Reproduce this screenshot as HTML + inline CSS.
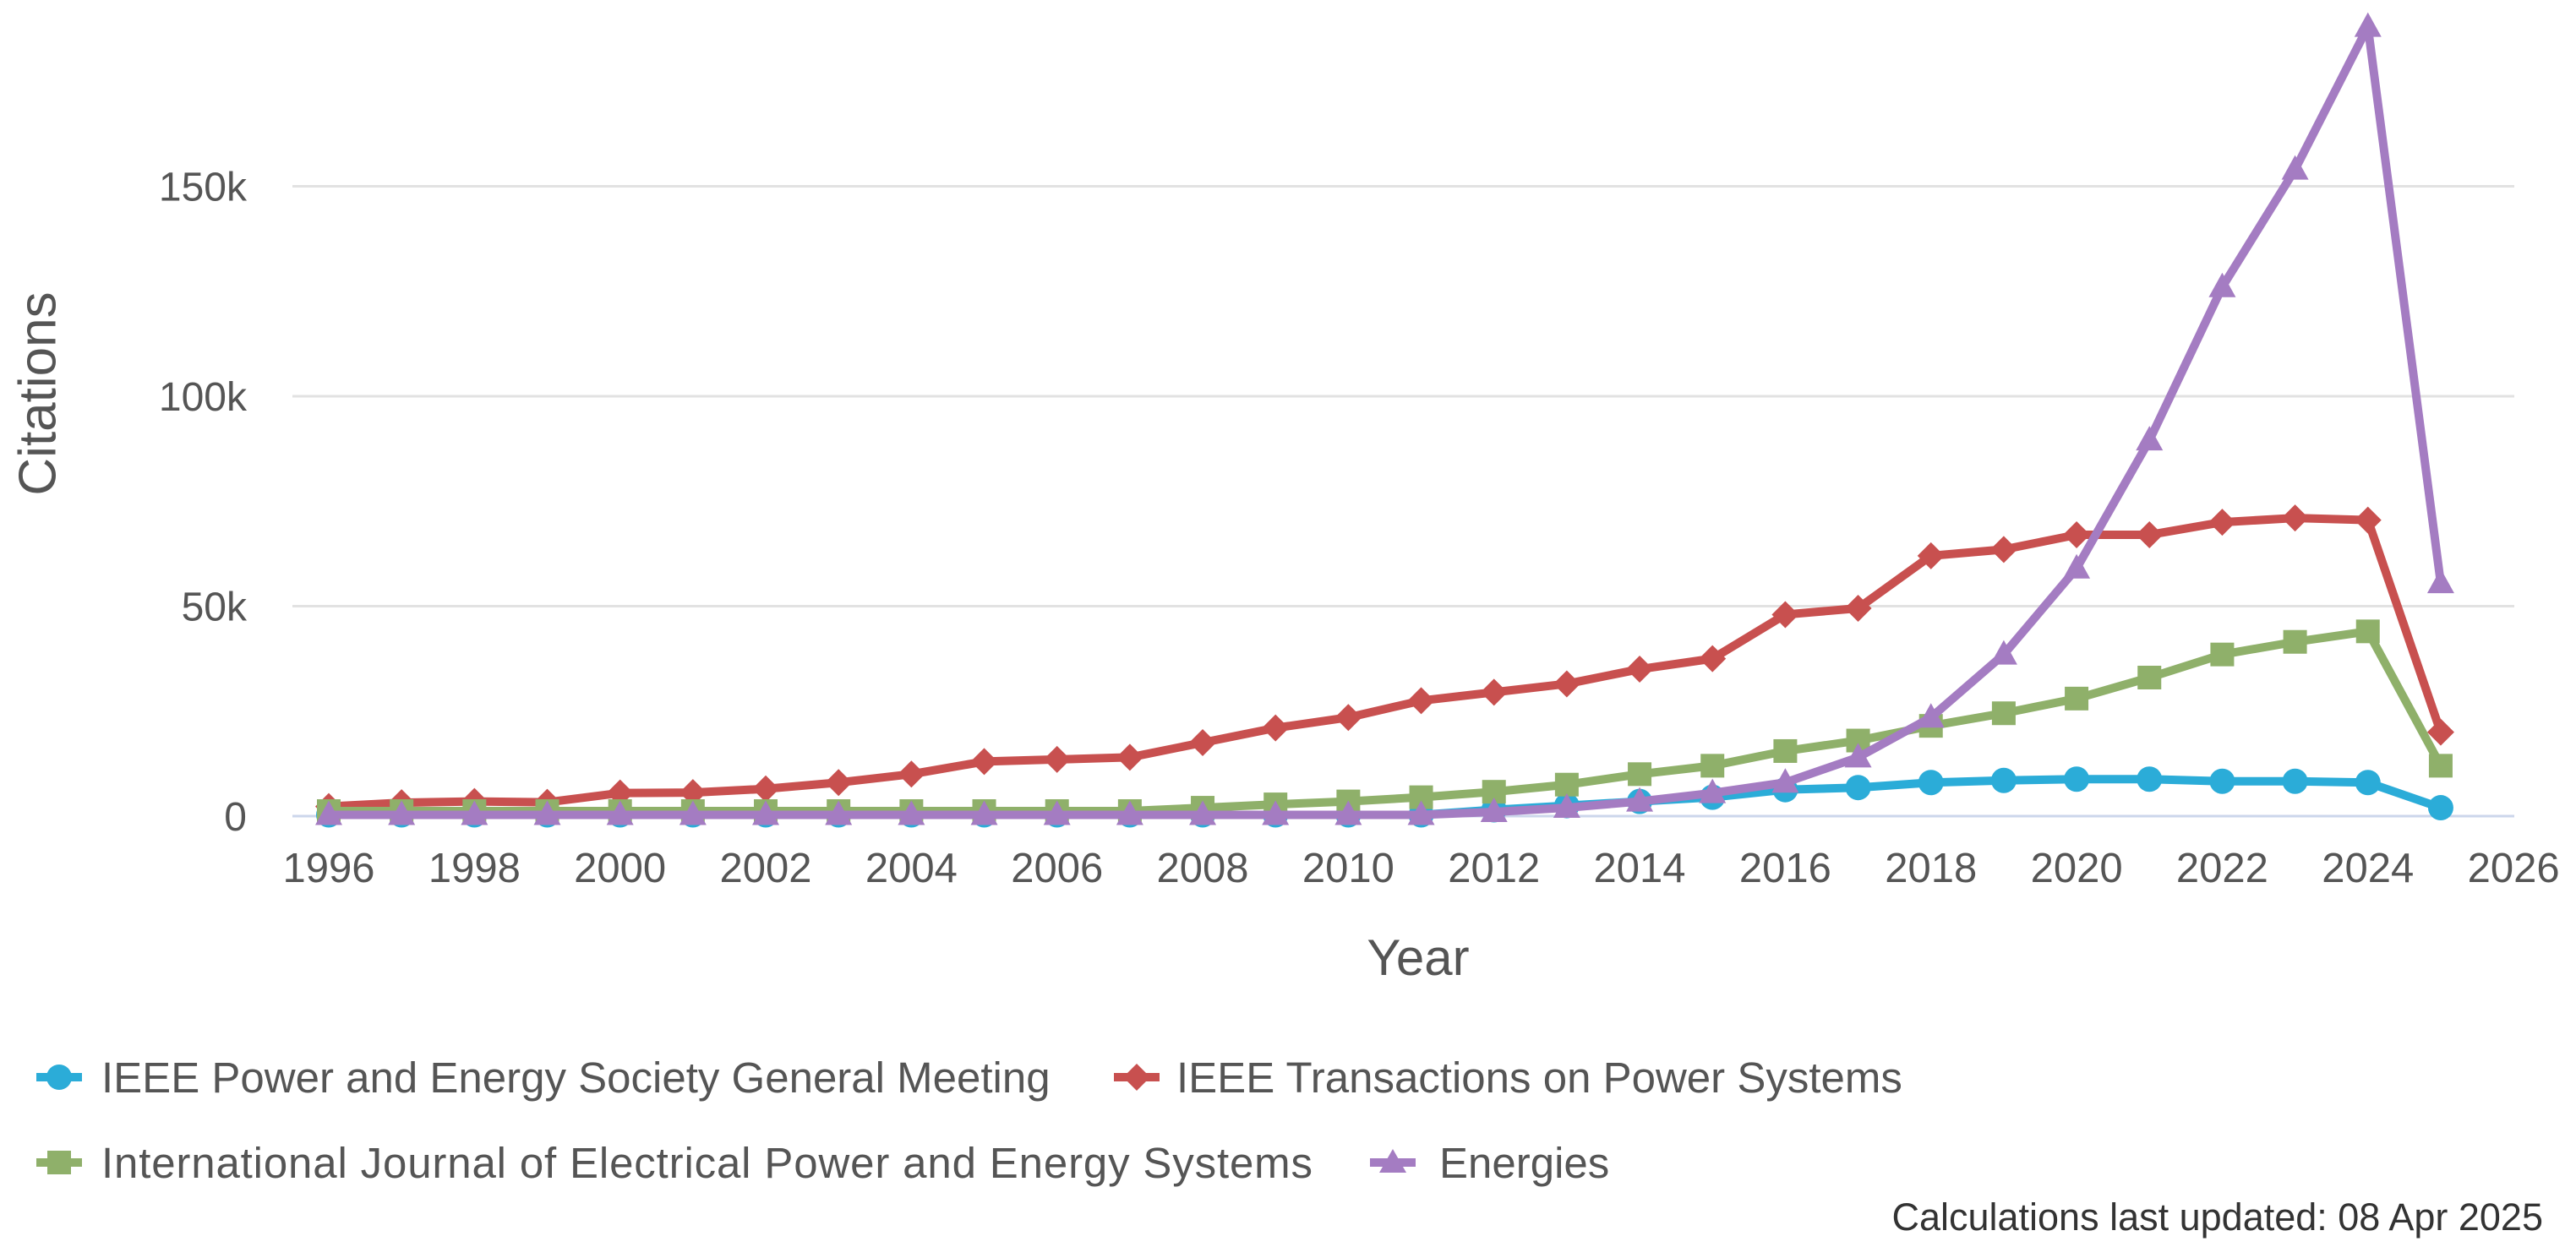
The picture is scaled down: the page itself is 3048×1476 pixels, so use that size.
<!DOCTYPE html>
<html><head><meta charset="utf-8"><style>
body{margin:0;background:#fff;}
svg{display:block;font-family:"Liberation Sans",sans-serif;}
</style></head><body>
<svg id="chart" width="3048" height="1476" viewBox="0 0 3048 1476">
<g id="grid"></g><g id="series"></g><g id="axes"></g>
<text x="49" y="466" transform="rotate(-90 49 466)" text-anchor="middle" font-size="62" fill="#555" dominant-baseline="middle">Citations</text>
<text x="1678" y="1154" text-anchor="middle" font-size="60" fill="#555">Year</text>
<g>
<g><line x1="43" y1="1275" x2="97" y2="1275" stroke="#2bacd8" stroke-width="10"/><circle cx="70" cy="1275" r="15" fill="#2bacd8"/><text x="120" y="1293" font-size="51" fill="#555">IEEE Power and Energy Society General Meeting</text></g>
<g><line x1="1318" y1="1275" x2="1372" y2="1275" stroke="#c8504f" stroke-width="10"/><path d="M1345 1259 L1361 1275 L1345 1291 L1329 1275Z" fill="#c8504f"/><text x="1392" y="1293" font-size="51" fill="#555">IEEE Transactions on Power Systems</text></g>
<g><line x1="43" y1="1376" x2="97" y2="1376" stroke="#8fb06a" stroke-width="10"/><rect x="56" y="1362" width="28" height="28" fill="#8fb06a"/><text x="120" y="1394" font-size="51" fill="#555" textLength="1433">International Journal of Electrical Power and Energy Systems</text></g>
<g><line x1="1621" y1="1376" x2="1675" y2="1376" stroke="#a47cc2" stroke-width="10"/><path d="M1648 1360 L1664 1388 L1632 1388Z" fill="#a47cc2"/><text x="1703" y="1394" font-size="51" fill="#555">Energies</text></g>
</g>
<text x="3009" y="1456" text-anchor="end" font-size="45" fill="#333">Calculations last updated: 08 Apr 2025</text>
</svg>
<script>
const years=[1996,1997,1998,1999,2000,2001,2002,2003,2004,2005,2006,2007,2008,2009,2010,2011,2012,2013,2014,2015,2016,2017,2018,2019,2020,2021,2022,2023,2024,2025];
const pesgm=[300,300,300,300,300,300,300,300,300,300,300,300,300,300,300,300,1500,2500,3500,4500,6300,6800,8000,8500,8800,8800,8300,8300,8000,2000];
const tpwrs=[2300,3200,3500,3300,5500,5600,6500,8000,10000,13000,13500,14000,17500,21000,23500,27500,29500,31500,35000,37500,48000,49500,62000,63500,67000,67000,70000,71000,70500,20000];
const ijepes=[1200,1200,1200,1200,1200,1200,1200,1200,1200,1200,1200,1200,2000,2800,3500,4500,5800,7500,10000,12000,15500,18000,21500,24500,28000,33000,38500,41500,44000,12000];
const energies=[300,300,300,300,300,300,300,300,300,300,300,300,300,300,300,300,1000,2000,3500,5500,8000,14000,23500,38500,59000,89500,126000,154000,188000,55500];
const yTicks=[0,50000,100000,150000];
const yTickLabels=["0","50k","100k","150k"];
const xTicks=[1996,1998,2000,2002,2004,2006,2008,2010,2012,2014,2016,2018,2020,2022,2024,2026];
const NS="http://www.w3.org/2000/svg";
const X=v=>389+(v-1996)*86.17;
const Y=v=>966-v*(248.5/50000);
function mk(t,a,p){const e=document.createElementNS(NS,t);for(const k in a)e.setAttribute(k,a[k]);p.appendChild(e);return e;}
const grid=document.getElementById('grid'),axes=document.getElementById('axes'),ser=document.getElementById('series');
yTicks.forEach((t,i)=>{
 const l=mk('line',{x1:346,x2:2975,y1:Y(t),y2:Y(t),stroke:i==0?'#ccd6eb':'#e2e2e2','stroke-width':3},grid);
 
 
 const tx=mk('text',{x:292,y:Y(t)+17,'text-anchor':'end','font-size':48,fill:'#555'},axes);
 tx.textContent=yTickLabels[i];
 
 
});
xTicks.forEach(t=>{
 const tx=mk('text',{x:X(t),y:1044,'text-anchor':'middle','font-size':49,fill:'#555'},axes);
 tx.textContent=t;
 
 
});
function marker(shape,x,y,c){
 if(shape=='circle')return mk('circle',{cx:x,cy:y,r:15,fill:c},ser);
 if(shape=='diamond')return mk('path',{d:`M${x} ${y-16}L${x+16} ${y}L${x} ${y+16}L${x-16} ${y}Z`,fill:c},ser);
 if(shape=='square')return mk('rect',{x:x-14,y:y-14,width:28,height:28,fill:c},ser);
 return mk('path',{d:`M${x} ${y-17}L${x+16} ${y+12}L${x-16} ${y+12}Z`,fill:c},ser);
}
const S=[['pesgm',pesgm,'#2bacd8','circle'],['tpwrs',tpwrs,'#c8504f','diamond'],['ijepes',ijepes,'#8fb06a','square'],['energies',energies,'#a47cc2','triangle']];
S.forEach(([n,d,c,sh])=>{
 const p=mk('polyline',{points:d.map((v,i)=>X(years[i])+','+Y(v)).join(' '),fill:'none',stroke:c,'stroke-width':10,'stroke-linejoin':'round'},ser);
 
 
 d.forEach((v,i)=>{
  const m=marker(sh,X(years[i]),Y(v),c);
  
  
 });
});
</script>
</body></html>
